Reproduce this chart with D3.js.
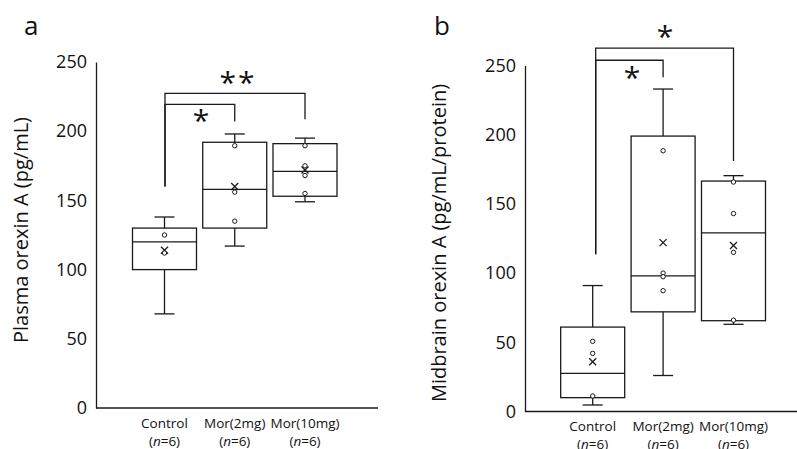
<!DOCTYPE html>
<html>
<head>
<meta charset="utf-8">
<script src="https://cdn.jsdelivr.net/npm/d3@7"></script>
<style>
  body { margin: 0; background: #fff; }
  svg { display: block; }
  text { font-family: "Open Sans", "Noto Sans", sans-serif; fill: #111; }
</style>
</head>
<body>
<div id="chart"></div>
<script>
// Groups on the x axis
var groups = ["Control", "Mor(2mg)", "Mor(10mg)"]
var nLabels = ["6", "6", "6"]
var yTicks = [0, 50, 100, 150, 200, 250]

// Panel a: plasma orexin A (pg/mL)
var plasmaLow = [68, 117, 149]
var plasmaQ1 = [100, 130, 153]
var plasmaMedian = [120, 158, 171]
var plasmaQ3 = [130, 192, 191]
var plasmaHigh = [138, 198, 195]
var plasmaMean = [114, 160, 172]
var plasmaPoints = [[125, 112], [189.5, 156, 135], [189.5, 175, 168, 155]]

// Panel b: midbrain orexin A (pg/mL/protein)
var midLow = [4.7, 26, 63]
var midQ1 = [10, 72, 65.6]
var midMedian = [27.6, 98, 129]
var midQ3 = [61, 199, 166.5]
var midHigh = [91, 233, 170.4]
var midMean = [36, 122, 120]
var midPoints = [[50.7, 42, 11.2], [188.4, 100, 97.4, 87.3], [165.8, 143, 115, 66]]

// Significance brackets: [from group, to group, bar level, right leg end]
var plasmaSig = [
  {from: 0, to: 2, level: 227.4, end: 208.6, stars: "**"},
  {from: 0, to: 1, level: 219.4, end: 207, stars: "*"}
]
var midSig = [
  {from: 0, to: 2, level: 262.6, end: 181, stars: "*"},
  {from: 0, to: 1, level: 253.8, end: 241.5, stars: "*"}
]

var svg = d3.select("#chart").append("svg")
  .attr("width", 797)
  .attr("height", 449)

var lineColor = "#1a1a1a"

function drawPanel(p) {
  var g = svg.append("g")

  var xScale = d3.scalePoint().domain(groups).range(p.xRange)
  var yScale = d3.scaleLinear().domain([0, 250]).range(p.yRange)
  var boxW = 64

  // y axis: just the line with labels, no tick marks
  var yAxis = g.append("g")
    .attr("transform", "translate(" + p.axisX + ",0)")
    .call(d3.axisLeft(yScale).tickValues(yTicks).tickSize(0).tickPadding(9).tickFormat(d3.format("d")))
  yAxis.select(".domain").attr("stroke", lineColor).attr("stroke-width", 1.3)
  yAxis.selectAll("text").style("font-size", "18px").attr("fill", "#111")

  // x axis baseline
  g.append("line")
    .attr("x1", p.axisX).attr("x2", p.axisEnd)
    .attr("y1", yScale(0)).attr("y2", yScale(0))
    .attr("stroke", lineColor).attr("stroke-width", 1.3)

  // x labels
  groups.forEach(function(grp, i) {
    var t = g.append("text")
      .attr("x", xScale(grp))
      .attr("y", p.labelY)
      .attr("text-anchor", "middle")
      .style("font-size", "13.5px")
    t.append("tspan").attr("x", xScale(grp)).text(grp)
    var t2 = t.append("tspan").attr("x", xScale(grp)).attr("dy", 18)
    t2.append("tspan").text("(")
    t2.append("tspan").style("font-style", "italic").text("n")
    t2.append("tspan").text("=" + nLabels[i] + ")")
  })

  // boxes
  groups.forEach(function(grp, i) {
    var cx = xScale(grp)
    // whiskers
    g.append("line")
      .attr("x1", cx).attr("x2", cx)
      .attr("y1", yScale(p.high[i])).attr("y2", yScale(p.q3[i]))
      .attr("stroke", lineColor).attr("stroke-width", 1.3)
    g.append("line")
      .attr("x1", cx).attr("x2", cx)
      .attr("y1", yScale(p.q1[i])).attr("y2", yScale(p.low[i]))
      .attr("stroke", lineColor).attr("stroke-width", 1.3)
    ;[p.high[i], p.low[i]].forEach(function(v) {
      g.append("line")
        .attr("x1", cx - 10).attr("x2", cx + 10)
        .attr("y1", yScale(v)).attr("y2", yScale(v))
        .attr("stroke", lineColor).attr("stroke-width", 1.3)
    })
    g.append("rect")
      .attr("x", cx - boxW / 2)
      .attr("y", yScale(p.q3[i]))
      .attr("width", boxW)
      .attr("height", yScale(p.q1[i]) - yScale(p.q3[i]))
      .attr("fill", "none")
      .attr("stroke", lineColor).attr("stroke-width", 1.3)
    g.append("line")
      .attr("x1", cx - boxW / 2).attr("x2", cx + boxW / 2)
      .attr("y1", yScale(p.median[i])).attr("y2", yScale(p.median[i]))
      .attr("stroke", lineColor).attr("stroke-width", 1.3)

    // mean marker (x)
    var my = yScale(p.mean[i]), s = 3.5
    g.append("path")
      .attr("d", "M" + (cx - s) + "," + (my - s) + "L" + (cx + s) + "," + (my + s) +
                 "M" + (cx - s) + "," + (my + s) + "L" + (cx + s) + "," + (my - s))
      .attr("stroke", lineColor).attr("stroke-width", 1.3)

    // individual points
    g.selectAll(null)
      .data(p.points[i])
      .enter()
      .append("circle")
      .attr("cx", cx)
      .attr("cy", d => yScale(d))
      .attr("r", 2.2)
      .attr("fill", "#fff")
      .attr("stroke", lineColor).attr("stroke-width", 1)
  })

  // significance brackets
  p.sig.forEach(function(s) {
    var x1 = xScale(groups[s.from]) + p.legShift
    var x2 = xScale(groups[s.to])
    var yl = yScale(s.level)
    g.append("path")
      .attr("d", "M" + x1 + "," + yScale(p.legEnd) + "L" + x1 + "," + yl + "L" + x2 + "," + yl + "L" + x2 + "," + yScale(s.end))
      .attr("fill", "none")
      .attr("stroke", lineColor).attr("stroke-width", 1.3)
  })
  p.starPos.forEach(function(sp, i) {
    g.append("text")
      .attr("x", sp[0]).attr("y", sp[1])
      .attr("text-anchor", "middle")
      .style("font-size", "30px")
      .style("letter-spacing", "2px")
      .text(p.sig[i].stars)
  })

  // y title
  g.append("text")
    .attr("transform", "translate(" + p.titleX + "," + p.titleY + ") rotate(-90)")
    .attr("text-anchor", "middle")
    .style("font-size", "20px")
    .text(p.title)

  // panel letter
  g.append("text")
    .attr("x", p.letterX).attr("y", 35)
    .style("font-size", "26px")
    .text(p.letter)
}

drawPanel({
  letter: "a", letterX: 24,
  title: "Plasma orexin A (pg/mL)", titleX: 28, titleY: 230,
  xRange: [164.5, 305], yRange: [408, 62],
  axisX: 96, axisEnd: 378, labelY: 428,
  low: plasmaLow, q1: plasmaQ1, median: plasmaMedian, q3: plasmaQ3, high: plasmaHigh,
  mean: plasmaMean, points: plasmaPoints,
  sig: plasmaSig, legEnd: 160, legShift: 0.5,
  starPos: [[238, 93], [202, 131]]
})

drawPanel({
  letter: "b", letterX: 434,
  title: "Midbrain orexin A (pg/mL/protein)", titleX: 446, titleY: 243,
  xRange: [592.7, 733.5], yRange: [411.5, 65.5],
  axisX: 525, axisEnd: 797, labelY: 431,
  low: midLow, q1: midQ1, median: midMedian, q3: midQ3, high: midHigh,
  mean: midMean, points: midPoints,
  sig: midSig, legEnd: 113.6, legShift: 3,
  starPos: [[666, 47], [633, 88]]
})
</script>
</body>
</html>
